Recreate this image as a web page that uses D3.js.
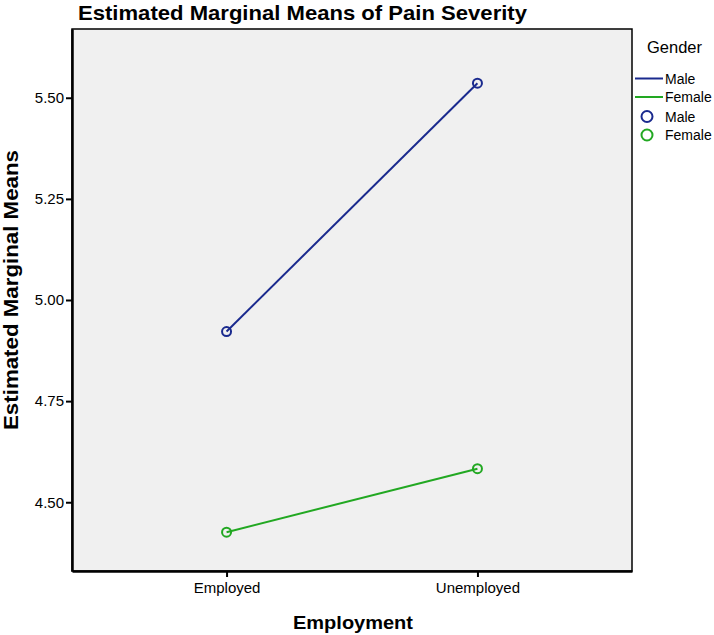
<!DOCTYPE html>
<html><head><meta charset="utf-8">
<script src="https://cdn.jsdelivr.net/npm/d3@7"></script>
<style>body{margin:0;background:#fff}svg{display:block}text{font-family:Arial,"Liberation Sans",sans-serif}</style>
</head><body>
<svg id="c" width="714" height="635"></svg>
<script>
const categories = ["Employed", "Unemployed"];
const seriesNames = ["Male", "Female"];
const maleValues = [4.922, 5.536];
const femaleValues = [4.426, 4.583];
const yTicks = [4.50, 4.75, 5.00, 5.25, 5.50];
const seriesColors = ["#1a2a8e", "#22a822"];

const svg = d3.select("#c");
const L = 72, R = 632, T = 29, B = 571;
const x = d3.scalePoint().domain(categories).range([L, R]).padding(0.616);
const y = d3.scaleLinear().domain([4.33, 5.67]).range([B, T]);

svg.append("rect").attr("x", L).attr("y", T).attr("width", R - L).attr("height", B - T)
  .attr("fill", "#f0f0f0").attr("stroke", "#000").attr("stroke-width", 1.5);

// axes
const ya = svg.append("g").attr("transform", `translate(${L},0)`)
  .call(d3.axisLeft(y).tickValues(yTicks).tickFormat(d3.format(".2f")).tickSize(6).tickSizeOuter(0));
ya.select(".domain").attr("stroke-width", 2.5);
ya.selectAll(".tick line").attr("stroke-width", 2);
ya.selectAll(".tick text").attr("font-size", 15).attr("fill", "#000").attr("x", -8);

const xa = svg.append("g").attr("transform", `translate(0,${B})`)
  .call(d3.axisBottom(x).tickSize(6).tickSizeOuter(0));
xa.select(".domain").attr("stroke-width", 2.5);
xa.selectAll(".tick line").attr("stroke-width", 2);
xa.selectAll(".tick text").attr("font-size", 15).attr("fill", "#000").attr("y", 11).attr("dy", "0.75em");

// series
const series = [maleValues, femaleValues];
const line = d3.line().x((d, i) => x(categories[i])).y(d => y(d));
series.forEach((vals, s) => {
  svg.append("path").datum(vals).attr("d", line).attr("fill", "none")
    .attr("stroke", seriesColors[s]).attr("stroke-width", 2);
  svg.selectAll(null).data(vals).enter().append("circle")
    .attr("cx", (d, i) => x(categories[i])).attr("cy", d => y(d)).attr("r", 4.5)
    .attr("fill", "none").attr("stroke", seriesColors[s]).attr("stroke-width", 2);
});

// titles
svg.append("text").attr("x", 78).attr("y", 20).attr("font-size", 21).attr("font-weight", "bold")
  .attr("textLength", 449).attr("lengthAdjust", "spacingAndGlyphs")
  .text("Estimated Marginal Means of Pain Severity");
svg.append("text").attr("transform", `translate(18,290) rotate(-90)`)
  .attr("text-anchor", "middle").attr("font-size", 20).attr("font-weight", "bold")
  .attr("textLength", 280).attr("lengthAdjust", "spacingAndGlyphs")
  .text("Estimated Marginal Means");
svg.append("text").attr("x", 353).attr("y", 629).attr("text-anchor", "middle")
  .attr("font-size", 19).attr("font-weight", "bold")
  .attr("textLength", 120).attr("lengthAdjust", "spacingAndGlyphs").text("Employment");

// legend
const lg = svg.append("g");
lg.append("text").attr("x", 647).attr("y", 53).attr("font-size", 16.5).text("Gender");
seriesNames.forEach((n, i) => {
  const yy = 78.5 + i * 18.5;
  lg.append("line").attr("x1", 635).attr("x2", 663).attr("y1", yy).attr("y2", yy)
    .attr("stroke", seriesColors[i]).attr("stroke-width", 2);
  lg.append("text").attr("x", 665).attr("y", yy + 5).attr("font-size", 14).text(n);
});
seriesNames.forEach((n, i) => {
  const yy = 116.5 + i * 18.5;
  lg.append("circle").attr("cx", 647).attr("cy", yy).attr("r", 5.5).attr("fill", "none")
    .attr("stroke", seriesColors[i]).attr("stroke-width", 2);
  lg.append("text").attr("x", 665).attr("y", yy + 5).attr("font-size", 14).text(n);
});
</script>
</body></html>
